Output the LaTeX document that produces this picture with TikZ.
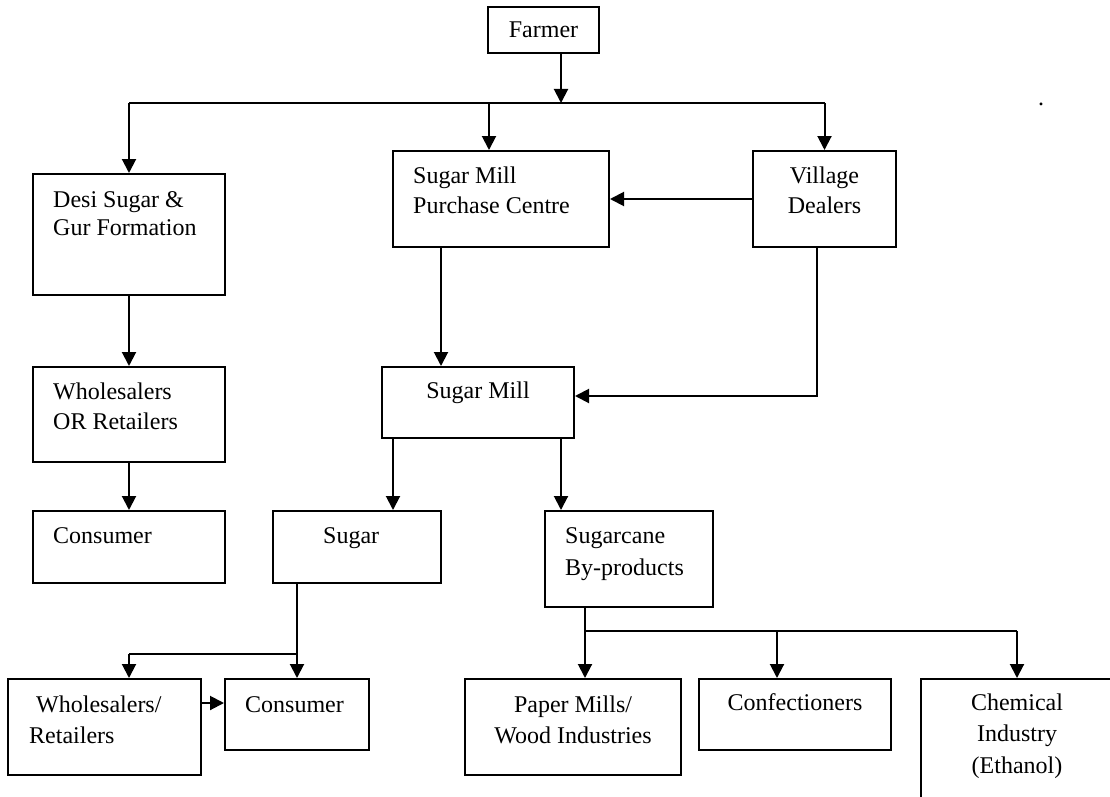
\documentclass[tikz,border=0pt]{standalone}
\usepackage{fontspec}
\setmainfont{Liberation Serif}
\usetikzlibrary{arrows.meta,calc}
\tikzset{
 box/.style={draw, line width=2pt, inner sep=0pt},
 ln/.style={line width=2pt},
 arr/.style={line width=2pt, -{Triangle[length=14pt,width=14pt]}},
 tl/.style={inner sep=0pt, anchor=base west, font=\fontsize{24pt}{30pt}\selectfont},
 tc/.style={inner sep=0pt, anchor=base, font=\fontsize{24pt}{30pt}\selectfont},
}
\begin{document}
\begin{tikzpicture}[x=1pt,y=-1pt]
\useasboundingbox (0,0) rectangle (1110,797);
\clip (0,0) rectangle (1110,797);
% boxes
\node[box, minimum width=111pt, minimum height=46pt] (farmer) at (543.5,30) {};
\node[box, minimum width=192pt, minimum height=121pt] (desi) at (129,234.5) {};
\node[box, minimum width=216pt, minimum height=96pt] (smpc) at (501,199) {};
\node[box, minimum width=143pt, minimum height=96pt] (vd) at (824.5,199) {};
\node[box, minimum width=192pt, minimum height=95pt] (wor) at (129,414.5) {};
\node[box, minimum width=192pt, minimum height=72pt] (consa) at (129,547) {};
\node[box, minimum width=192pt, minimum height=71pt] (sm) at (478,402.5) {};
\node[box, minimum width=168pt, minimum height=72pt] (sugar) at (357,547) {};
\node[box, minimum width=168pt, minimum height=96pt] (byp) at (629,559) {};
\node[box, minimum width=193pt, minimum height=96pt] (wr) at (104.5,727) {};
\node[box, minimum width=144pt, minimum height=71pt] (consb) at (297,714.5) {};
\node[box, minimum width=216pt, minimum height=96pt] (paper) at (573,727) {};
\node[box, minimum width=192pt, minimum height=71pt] (conf) at (795,714.5) {};
\node[box, minimum width=192pt, minimum height=151pt] (chem) at (1017,754.5) {};
% texts
\node[tc] (tfarmer) at (543.5,38) {Farmer};
\node[tl] (tdesia) at (53,207) {Desi Sugar \&};
\node[tl] (tdesib) at (53,235) {Gur Formation};
\node[tl] (tsmpca) at (413,183) {Sugar Mill};
\node[tl] (tsmpcb) at (413,213) {Purchase Centre};
\node[tc] (tvda) at (824.5,183) {Village};
\node[tc] (tvdb) at (824.5,213) {Dealers};
\node[tl] (twora) at (53,399) {Wholesalers};
\node[tl] (tworb) at (53,429) {OR Retailers};
\node[tl] (tconsa) at (53,543) {Consumer};
\node[tc] (tsm) at (478,398) {Sugar Mill};
\node[tl] (tsugar) at (323,543) {Sugar};
\node[tl] (tbypa) at (565,543) {Sugarcane};
\node[tl] (tbypb) at (565,575) {By-products};
\node[tl] (twra) at (36,712) {Wholesalers/};
\node[tl] (twrb) at (29,743) {Retailers};
\node[tl] (tconsb) at (245,712) {Consumer};
\node[tc] (tpapera) at (573,712) {Paper Mills/};
\node[tc] (tpaperb) at (573,743) {Wood Industries};
\node[tc] (tconf) at (795,710) {Confectioners};
\node[tc] (tchema) at (1017,710) {Chemical};
\node[tc] (tchemb) at (1017,741) {Industry};
\node[tc] (tchemc) at (1017,773) {(Ethanol)};
\node[tc] (dot) at (1041,106) {.};
% junctions
\coordinate (fj) at (561,103);
\coordinate (bl) at (129,103);
\coordinate (bm) at (489,103);
\coordinate (br) at (vd.north |- fj);
\coordinate (sj) at (297,654);
\coordinate (sl) at (129,654);
\coordinate (pj) at (585,631);
\coordinate (mj) at (777,631);
\coordinate (cj) at (1017,631);
% connectors
\draw[arr] (farmer.south -| fj) -- (fj);
\draw[ln] (bl) -- (br);
\draw[arr] (bl) -- (desi.north);
\draw[arr] (bm) -- (bm |- smpc.north);
\draw[arr] (br) -- (vd.north);
\draw[arr] (vd.west) -- (smpc.east);
\draw[arr] ([xshift=-60pt]smpc.south) -- ([xshift=-60pt]smpc.south |- sm.north);
\draw[arr] ([xshift=-7.5pt]vd.south) |- ([yshift=6.5pt]sm.east);
\draw[arr] (desi.south) -- (wor.north);
\draw[arr] (wor.south) -- (consa.north);
\draw[arr] ([xshift=-85pt]sm.south) -- ([xshift=-85pt]sm.south |- sugar.north);
\draw[arr] ([xshift=83pt]sm.south) -- ([xshift=83pt]sm.south |- byp.north);
\draw[ln] (sugar.south -| sj) -- (sj) -- (sl);
\draw[arr] (sl) -- (sl |- wr.north);
\draw[arr] (sj) -- (consb.north);
\draw[arr] ([yshift=24pt]wr.east) -- ([yshift=24pt]wr.east -| consb.west);
\draw[ln] (byp.south -| pj) -- (pj) -- (cj);
\draw[arr] (pj) -- (pj |- paper.north);
\draw[arr] (mj) -- (mj |- conf.north);
\draw[arr] (cj) -- (chem.north);
\end{tikzpicture}
\end{document}
